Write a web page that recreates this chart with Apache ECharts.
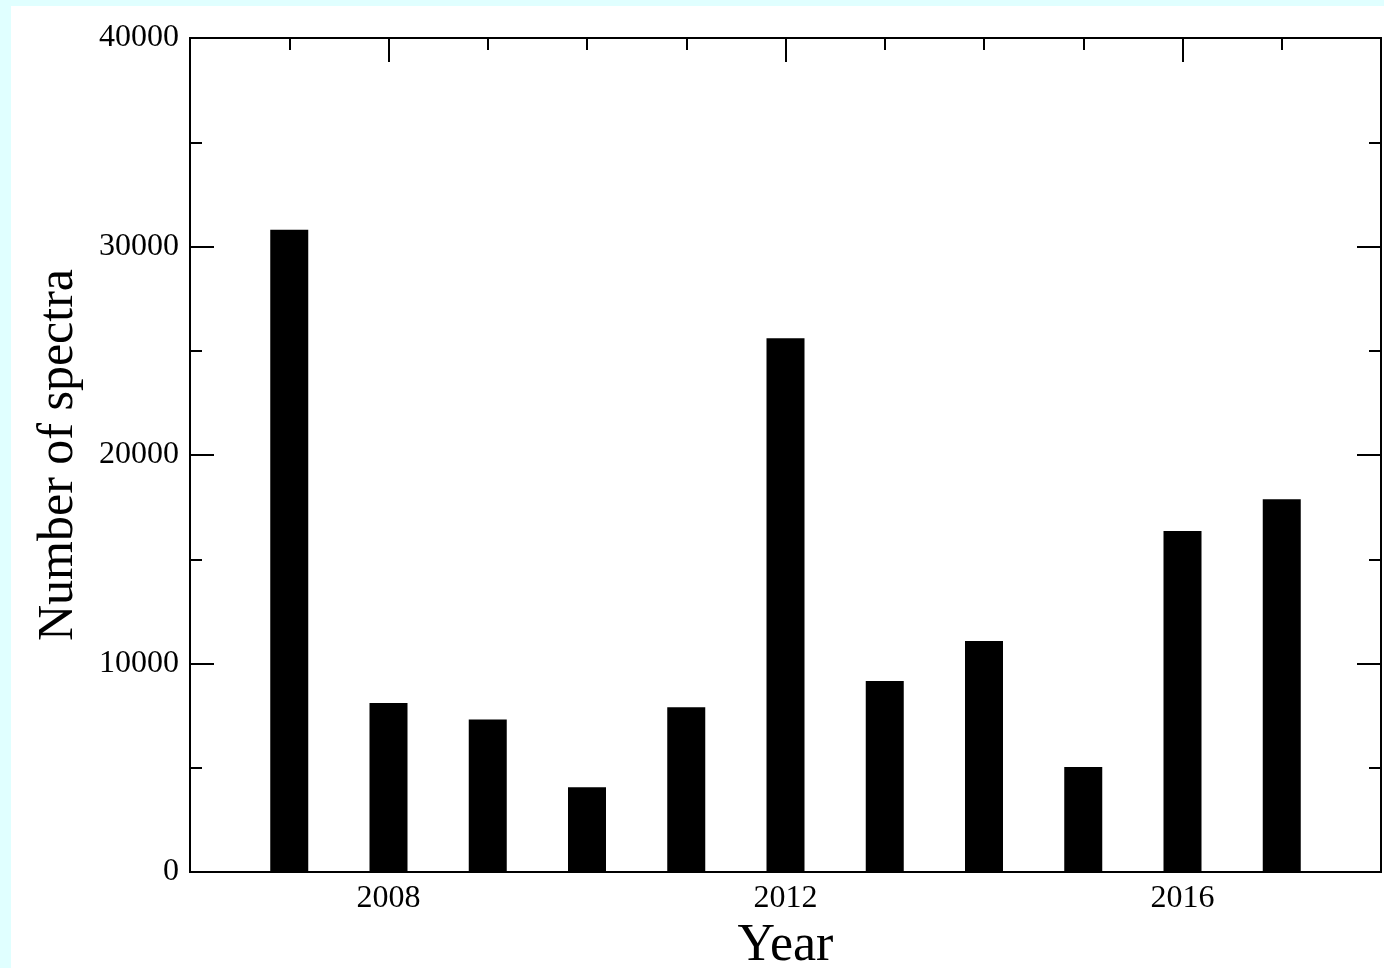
<!DOCTYPE html>
<html>
<head>
<meta charset="utf-8">
<script src="https://cdn.jsdelivr.net/npm/echarts@6/dist/echarts.min.js"></script>
<style>
  html, body { margin: 0; padding: 0; background: #e0ffff; }
  #chart { position: absolute; left: 11px; top: 6px; width: 1373px; height: 962px; background: #ffffff; }
</style>
</head>
<body>
<div id="chart"></div>
<script>
// Data
const years = [2007, 2008, 2009, 2010, 2011, 2012, 2013, 2014, 2015, 2016, 2017];
const spectra = [30800, 8100, 7320, 4060, 7900, 25600, 9160, 11080, 5030, 16350, 17880];
const xMajorTicks = [2008, 2012, 2016];
const yTickLabels = ['0', '10000', '20000', '30000', '40000'];

const chart = echarts.init(document.getElementById('chart'), null, { renderer: 'canvas' });
const font = 'Liberation Serif';
const black = '#000000';
const xMin = 2006, xMax = 2018;

function xAx(pos, major, showLabel) {
  return {
    type: 'value', position: pos, min: xMin, max: xMax,
    interval: 1,
    axisLine: { show: true, lineStyle: { color: black, width: 2 } },
    splitLine: { show: false },
    axisTick: major
      ? { show: true, inside: true, length: 24, lineStyle: { color: black, width: 2 }, customValues: xMajorTicks }
      : { show: true, inside: true, length: 12, lineStyle: { color: black, width: 2 } },
    axisLabel: showLabel
      ? { show: true, customValues: xMajorTicks, fontFamily: font, fontSize: 32, color: black, margin: 11,
          formatter: function (v) { return String(v); } }
      : { show: false },
    name: showLabel ? 'Year' : '',
    nameLocation: 'middle', nameGap: 41,
    nameTextStyle: { fontFamily: font, fontSize: 52, color: black }
  };
}
function yAx(pos, showLabel) {
  return {
    type: 'value', position: pos, min: 0, max: 40000, interval: 10000,
    axisLine: { show: true, lineStyle: { color: black, width: 2 } },
    splitLine: { show: false },
    axisTick: { show: true, inside: true, length: 24, lineStyle: { color: black, width: 2 } },
    minorTick: { show: true, splitNumber: 2, length: 12, lineStyle: { color: black, width: 2 } },
    axisLabel: showLabel
      ? { show: true, fontFamily: font, fontSize: 32, color: black, margin: 11,
          formatter: function (v) { return yTickLabels[Math.round(v / 10000)]; } }
      : { show: false },
    name: showLabel ? 'Number of spectra' : '',
    nameLocation: 'middle', nameGap: 106, nameRotate: 90,
    nameTextStyle: { fontFamily: font, fontSize: 50, color: black }
  };
}

chart.setOption({
  animation: false,
  backgroundColor: '#ffffff',
  grid: { left: 179, top: 32, right: 3, bottom: 96, containLabel: false, outerBoundsMode: 'none' },
  xAxis: [xAx('bottom', true, true), xAx('bottom', false, false), xAx('top', true, false), xAx('top', false, false)],
  yAxis: [yAx('left', true), yAx('right', false)],
  series: [{
    type: 'bar',
    xAxisIndex: 0, yAxisIndex: 0,
    barWidth: 38,
    itemStyle: { color: black },
    data: years.map(function (y, i) { return [y, spectra[i]]; }),
    z: 5
  }]
});
</script>
</body>
</html>
